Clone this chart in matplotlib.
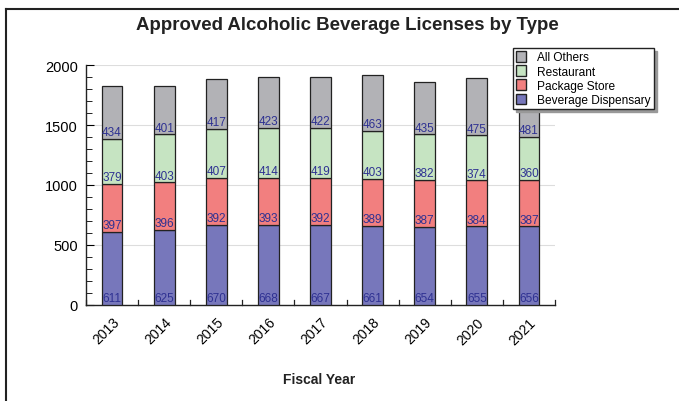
import matplotlib
matplotlib.use("Agg")
import matplotlib.pyplot as plt
import numpy as np
from matplotlib.patches import Patch

years = ["2013", "2014", "2015", "2016", "2017", "2018", "2019", "2020", "2021"]
beverage_dispensary = [611, 625, 670, 668, 667, 661, 654, 655, 656]
package_store = [397, 396, 392, 393, 392, 389, 387, 384, 387]
restaurant = [379, 403, 407, 414, 419, 403, 382, 374, 360]
all_others = [434, 401, 417, 423, 422, 463, 435, 475, 481]

series = [
    ("Beverage Dispensary", beverage_dispensary, "#7777bb"),
    ("Package Store", package_store, "#f27f7f"),
    ("Restaurant", restaurant, "#c6e4c2"),
    ("All Others", all_others, "#b2b2b6"),
]

plt.rcParams['font.family'] = ['Liberation Sans', 'DejaVu Sans']

fig = plt.figure(figsize=(6.79, 4.02), dpi=100)
# outer frame
fig.add_artist(plt.Line2D([6/679, 6/679], [0, 1 - 10/402], transform=fig.transFigure, color="#222222", lw=1.5))
fig.add_artist(plt.Line2D([6/679, 1], [1 - 10/402, 1 - 10/402], transform=fig.transFigure, color="#222222", lw=1.5))

ax = fig.add_axes([86/679, 1 - 306/402, (555 - 86)/679, (306 - 66)/402])
x = np.arange(len(years))
bottom = np.zeros(len(years))
for name, vals, col in series:
    vals = np.array(vals)
    ax.bar(x, vals, width=0.4, bottom=bottom, color=col, edgecolor="#222222", linewidth=0.9, zorder=3)
    for xi, b, v in zip(x, bottom, vals):
        ax.text(xi, b + 5, str(v), ha="center", va="bottom", fontsize=8.5,
                color="#2e3192", zorder=4)
    bottom = bottom + vals

ax.set_xlim(-0.5, len(years) - 0.5)
ax.set_ylim(0, 2000)
ax.set_yticks([0, 500, 1000, 1500, 2000])
ax.set_yticks(np.arange(0, 2001, 100), minor=True)
ax.yaxis.grid(True, color="#dddddd", lw=0.8, zorder=0)
ax.set_xticks(x)
ax.set_xticklabels(years, rotation=45, ha="right", rotation_mode="anchor", fontsize=10)
ax.tick_params(axis="x", length=0, pad=7)
ax.tick_params(axis="y", which="major", direction="in", length=6, labelsize=10.5, pad=6)
ax.tick_params(axis="y", which="minor", direction="in", length=4)
for b in np.arange(-0.5, len(years), 1.0):
    ax.plot([b, b], [0, 45], color="#222222", lw=0.9, zorder=5, clip_on=False)
for s in ["top", "right"]:
    ax.spines[s].set_visible(False)
for s in ["left", "bottom"]:
    ax.spines[s].set_color("#222222")
    ax.spines[s].set_linewidth(1.0)

fig.text(347/679, 1 - 25/402, "Approved Alcoholic Beverage Licenses by Type", ha="center", va="center",
         fontsize=13.4, fontweight="bold", color="#222222")
fig.text(319/679, 1 - 380/402, "Fiscal Year", ha="center", va="center", fontsize=10,
         fontweight="bold", color="#222222")

handles = [Patch(facecolor=c, edgecolor="#222222", label=n) for n, _, c in series[::-1]]
leg = fig.legend(handles=handles, loc="upper left", bbox_to_anchor=(513/679, 1 - 49/402),
                 frameon=True, fancybox=False, shadow={'color': '#999999', 'alpha': 1.0},
                 prop={'size': 8.6},
                 handlelength=0.8, handleheight=1.0, handletextpad=1.0, labelspacing=0.15,
                 borderpad=0.25, borderaxespad=0)
leg.get_frame().set_edgecolor("#222222")
leg.get_frame().set_linewidth(1.0)

fig.savefig("out.png", dpi=100)
